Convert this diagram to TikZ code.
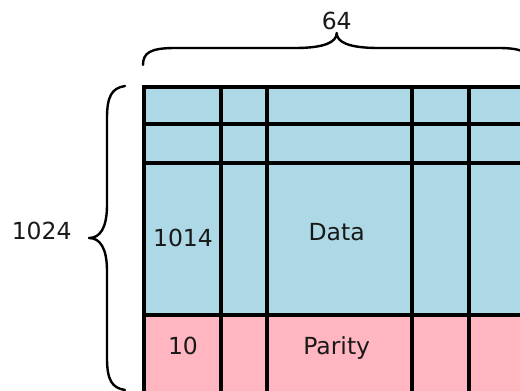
\documentclass[tikz,border=0pt]{standalone}
\usepackage{fontspec}
\setmainfont{DejaVu Sans}
\definecolor{cellblue}{RGB}{173,216,230}
\definecolor{cellpink}{RGB}{255,182,193}
\tikzset{
  gridline/.style={line width=3.8pt, black},
  bracepath/.style={line width=2.4pt, black, line cap=round, line join=round},
  lbl/.style={font=\fontsize{23.5}{23.5}\selectfont, text=black!90, inner sep=0pt, anchor=base}
}
\begin{document}
\begin{tikzpicture}[x=1pt,y=-1pt]
\useasboundingbox (0,0) rectangle (520,391);
\clip (0,0) rectangle (520,391);
% fills
\fill[cellblue] (144.3,86.7) rectangle (535,315);
\fill[cellpink] (144.3,315) rectangle (535,395);
% grid
\foreach \x in {144.3,220.7,266.7,412.3,469.3}
  \draw[gridline] (\x,86.7) -- (\x,395);
\foreach \y in {86.7,124.3,163.3,315,392.5}
  \draw[gridline] (142.4,\y) -- (535,\y);
% labels
\node[lbl] (n64) at (336.7,29.3) {64};
\node[lbl] (n1024) at (41.7,239.3) {1024};
\node[lbl] (n1014) at (183,246.7) {1014};
\node[lbl] (ndata) at (336.7,240) {Data};
\node[lbl] (n10) at (183,354) {10};
\node[lbl] (nparity) at (336.7,354) {Parity};
% top brace
\draw[bracepath] (143,65) .. controls (143,53) and (150,48) .. (175,48) -- (295,48)
  .. controls (325,48) and (336.7,42) .. (336.7,33)
  .. controls (336.7,42) and (348.4,48) .. (378.4,48) -- (498.4,48)
  .. controls (523.4,48) and (530.4,53) .. (530.4,65);
% left brace
\draw[bracepath] (125,86) .. controls (112,88) and (107,96) .. (107,118) -- (107,205)
  .. controls (107,228) and (100,238) .. (89,238)
  .. controls (100,238) and (107,248) .. (107,271) -- (107,358)
  .. controls (107,380) and (112,388) .. (125,390);
\end{tikzpicture}
\end{document}
